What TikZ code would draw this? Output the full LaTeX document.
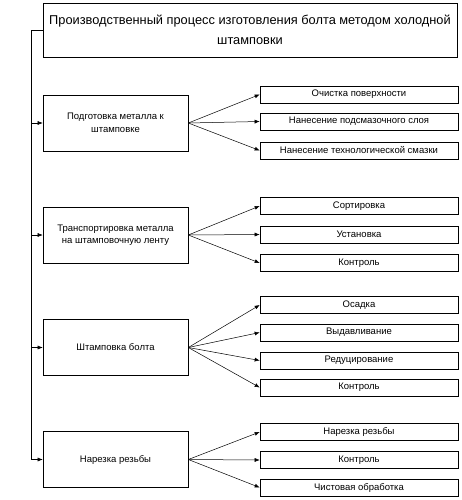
\documentclass[tikz,border=0pt]{standalone}
\usepackage{fontspec}
\setmainfont{Liberation Sans}
\usetikzlibrary{arrows.meta}

\tikzset{
  stage/.style={draw, line width=0.6pt, minimum width=145pt, minimum height=56pt, align=center, inner sep=2pt, font=\fontsize{9.5}{12.5}\selectfont},
  oper/.style={draw, line width=0.6pt, minimum width=198pt, minimum height=17pt, inner sep=1pt, font=\fontsize{9.5}{11}\selectfont},
  link/.style={line width=0.5pt, -{Latex[length=5pt,width=4pt]}}
}

\begin{document}
\begin{tikzpicture}[x=1pt,y=-1pt]
\useasboundingbox (0,0) rectangle (462,500);

\node[draw, line width=0.6pt, minimum width=414pt, minimum height=54pt, align=center, inner sep=2pt, font=\fontsize{12.8}{19.5}\selectfont] (title) at (250,30) {Производственный процесс изготовления болта методом холодной\\штамповки};

\node[stage] (prep) at (115.5,123) {Подготовка металла к\\штамповке};
\node[stage] (trans) at (115.5,235) {Транспортировка металла\\на штамповочную ленту};
\node[stage] (stamp) at (115.5,347.5) {Штамповка болта};
\node[stage] (thread) at (115.5,459.5) {Нарезка резьбы};

\node[oper] (p1) at (359,94.5) {Очистка поверхности};
\node[oper] (p2) at (359,121.5) {Нанесение подсмазочного слоя};
\node[oper] (p3) at (359,150.5) {Нанесение технологической смазки};

\node[oper] (t1) at (359,206) {Сортировка};
\node[oper] (t2) at (359,234.5) {Установка};
\node[oper] (t3) at (359,263) {Контроль};

\node[oper] (s1) at (359,305) {Осадка};
\node[oper] (s2) at (359,332.5) {Выдавливание};
\node[oper] (s3) at (359,360.5) {Редуцирование};
\node[oper] (s4) at (359,387.5) {Контроль};

\node[oper] (r1) at (359,432) {Нарезка резьбы};
\node[oper] (r2) at (359,460) {Контроль};
\node[oper] (r3) at (359,487.5) {Чистовая обработка};

\coordinate (top) at (31,30);
\coordinate (bot) at (31,459.5);
\draw[line width=0.6pt] (title.west) -- (top) -- (bot);

\foreach \s in {prep,trans,stamp,thread}
  \draw[link] (top |- \s) -- (\s.west);

\foreach \o in {p1,p2,p3}
  \draw[link] (prep.east) -- (\o.west);
\foreach \o in {t1,t2,t3}
  \draw[link] (trans.east) -- (\o.west);
\foreach \o in {s1,s2,s3,s4}
  \draw[link] (stamp.east) -- (\o.west);
\foreach \o in {r1,r2,r3}
  \draw[link] (thread.east) -- (\o.west);

\end{tikzpicture}
\end{document}
